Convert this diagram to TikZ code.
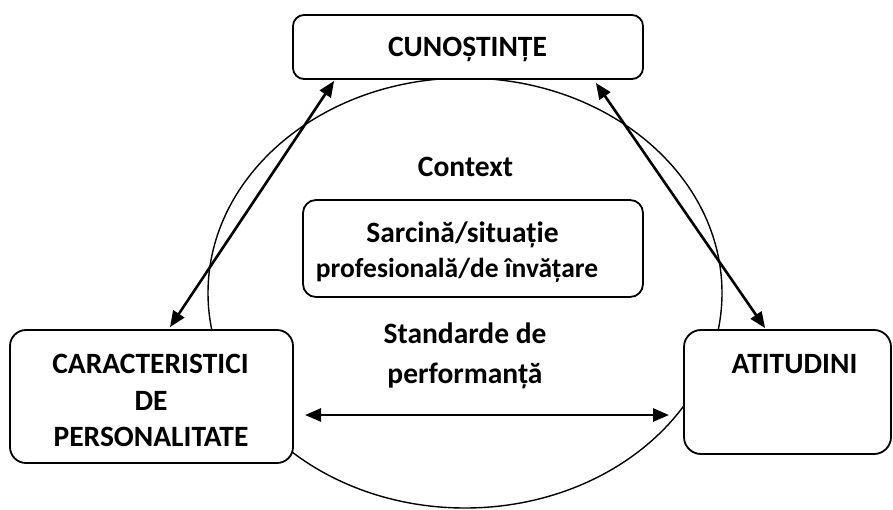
\documentclass[tikz,border=0pt]{standalone}
\usepackage{fontspec}
\setmainfont{Carlito}
\usetikzlibrary{arrows.meta,calc}
\begin{document}
\begin{tikzpicture}[x=1pt,y=-1pt,
  box/.style={draw, line width=1.8pt, fill=white, inner sep=0pt},
  lbl/.style={font=\fontsize{29.5}{34}\selectfont\bfseries, anchor=base, inner sep=0pt},
  lbls/.style={font=\fontsize{27.5}{30}\selectfont\bfseries, anchor=base, inner sep=0pt},
  tipk/.tip={Triangle[length=16pt,width=13pt]},
  arr/.style={line width=2.6pt, tipk-tipk},
]
\useasboundingbox (0,0) rectangle (893,510);
% context circle
\draw[line width=1.4pt] (465,293) ellipse [x radius=257pt, y radius=215pt];
% boxes
\node[box, rounded corners=11pt, minimum width=350pt, minimum height=64pt] (cun) at (468,47) {};
\node[box, rounded corners=13pt, minimum width=340pt, minimum height=97pt] (sarc) at (473,248.5) {};
\node[box, rounded corners=16pt, minimum width=283pt, minimum height=133pt] (pers) at (151.5,396.5) {};
\node[box, rounded corners=17pt, minimum width=207pt, minimum height=124pt] (atit) at (787.5,392) {};
% texts
\node[lbl] (tcun) at (467.5,57) {CUNOȘTINȚE};
\node[lbl] (tctx) at (465.5,177) {Context};
\node[lbl] (tsar1) at (462.5,243) {Sarcină/situație};
\node[lbls] (tsar2) at (457,277) {profesională/de învățare};
\node[lbl] (tstd1) at (465,343) {Standarde de};
\node[lbl] (tstd2) at (465,383) {performanță};
\node[lbl] (tper1) at (150.5,373) {CARACTERISTICI};
\node[lbl] (tper2) at (151,410) {DE};
\node[lbl] (tper3) at (151,446) {PERSONALITATE};
\node[lbl] (tatt) at (794.5,373) {ATITUDINI};
% arrow end points
\coordinate (a1) at ($(cun.south west)+(42,1)$);
\coordinate (a2) at ($(pers.north)+(18.5,-2)$);
\coordinate (b1) at ($(cun.south east)+(-48,3)$);
\coordinate (b2) at ($(atit.north west)+(82,-1)$);
\coordinate (h1) at (305,415);
\coordinate (h2) at (669,415);
\draw[arr] (a1) -- (a2);
\draw[arr] (b1) -- (b2);
\draw[arr] (h1) -- (h2);
\end{tikzpicture}
\end{document}
